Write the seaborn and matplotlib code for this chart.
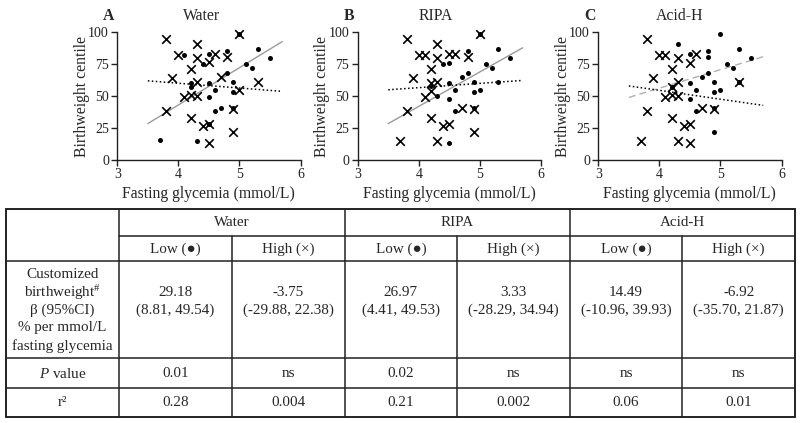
import matplotlib
matplotlib.use("Agg")
import matplotlib.pyplot as plt
from matplotlib.lines import Line2D
import seaborn as sns
import numpy as np
import pandas as pd

# ---------------- data ----------------
panel_names = ["Water", "RIPA", "Acid-H"]
panel_letters = ["A", "B", "C"]

a_low_x = [3.7, 4.1, 4.2, 4.2, 4.3, 4.4, 4.5, 4.5, 4.5, 4.5, 4.6, 4.6, 4.7, 4.8, 4.8, 4.9, 4.9, 4.9, 5.0, 5.1, 5.2, 5.3, 5.5]
a_low_y = [16, 82, 60, 57, 15, 75, 83, 60, 49, 28, 55, 38, 41, 85, 68, 61, 53, 41, 99, 75, 72, 87, 80]
a_high_x = [3.8, 3.8, 3.9, 4.0, 4.1, 4.2, 4.2, 4.2, 4.3, 4.3, 4.3, 4.3, 4.4, 4.5, 4.5, 4.5, 4.6, 4.7, 4.8, 4.9, 4.9, 5.0, 5.0, 5.3]
a_high_y = [95, 38, 64, 82, 49, 71, 51, 33, 91, 80, 61, 50, 27, 77, 28, 13, 83, 65, 81, 40, 22, 99, 55, 61]

b_low_x = [4.2, 4.3, 4.4, 4.5, 4.5, 4.5, 4.5, 4.6, 4.6, 4.7, 4.8, 4.8, 4.9, 4.9, 4.9, 5.0, 5.0, 5.1, 5.2, 5.3, 5.3, 5.5]
b_low_y = [58, 50, 75, 76, 60, 48, 13, 55, 38, 65, 85, 68, 61, 53, 41, 99, 55, 75, 72, 87, 61, 80]
b_high_x = [3.7, 3.8, 3.8, 3.9, 4.0, 4.1, 4.1, 4.2, 4.2, 4.2, 4.2, 4.3, 4.3, 4.3, 4.3, 4.4, 4.5, 4.5, 4.6, 4.7, 4.8, 4.9, 4.9, 5.0]
b_high_y = [15, 95, 38, 64, 82, 82, 49, 71, 60, 54, 33, 91, 80, 61, 15, 27, 83, 28, 83, 41, 81, 40, 22, 99]

c_low_x = [4.2, 4.3, 4.5, 4.5, 4.5, 4.6, 4.6, 4.7, 4.8, 4.8, 4.8, 4.9, 4.9, 4.9, 4.9, 5.0, 5.0, 5.1, 5.2, 5.3, 5.3, 5.5]
c_low_y = [57, 91, 83, 60, 48, 55, 38, 65, 85, 81, 68, 61, 53, 41, 22, 99, 55, 75, 72, 87, 61, 80]
c_high_x = [3.7, 3.8, 3.8, 3.9, 4.0, 4.1, 4.1, 4.2, 4.2, 4.2, 4.2, 4.3, 4.3, 4.3, 4.3, 4.4, 4.5, 4.5, 4.5, 4.6, 4.7, 4.9, 5.3]
c_high_y = [15, 95, 38, 64, 82, 82, 49, 71, 57, 51, 33, 80, 61, 50, 15, 27, 76, 28, 13, 83, 41, 40, 61]

# regression lines: x range, y at start, slope (beta from table)
line_x = [3.5, 5.7]
low_start = [28.5, 28.5, 49.0]
high_start = [62.0, 55.0, 58.0]

# table values
beta = ["29.18", "-3.75", "26.97", "3.33", "14.49", "-6.92"]
ci = ["(8.81, 49.54)", "(-29.88, 22.38)", "(4.41, 49.53)", "(-28.29, 34.94)",
      "(-10.96, 39.93)", "(-35.70, 21.87)"]
pvals = ["0.01", "ns", "0.02", "ns", "ns", "ns"]
r2 = ["0.28", "0.004", "0.21", "0.002", "0.06", "0.01"]
beta_num = [29.18, -3.75, 26.97, 3.33, 14.49, -6.92]
sub_headers = ["Low (\u25cf)", "High (\u00d7)"]

xticks = [3, 4, 5, 6]
yticks = [0, 25, 50, 75, 100]

# ---------------- style ----------------
sns.set_theme(style="ticks")
serif = ["Liberation Serif", "DejaVu Serif"]
plt.rcParams["font.family"] = serif
plt.rcParams["mathtext.fontset"] = "custom"
plt.rcParams["mathtext.rm"] = "Liberation Serif"
plt.rcParams["mathtext.it"] = "Liberation Serif:italic"
plt.rcParams["axes.edgecolor"] = "#222222"
plt.rcParams["xtick.color"] = "#222222"
plt.rcParams["ytick.color"] = "#222222"

W, H = 800, 423
fig = plt.figure(figsize=(8.0, 4.23), dpi=100)

def fx(px):
    return px / W

def fy(py):
    return 1 - py / H

panels = [
    (a_low_x, a_low_y, a_high_x, a_high_y),
    (b_low_x, b_low_y, b_high_x, b_high_y),
    (c_low_x, c_low_y, c_high_x, c_high_y),
]
ax_left_px = [117.3, 357.7, 598.3]
ax_w_px = 183.2
ax_top_px, ax_bot_px = 32.3, 160.0
low_styles = [("-", "#9a9a9a"), ("-", "#9a9a9a"), ((0, (5, 3)), "#b0b0b0")]
title_off = [-7, -14, -10]
letter_off = [-9, -9, -8]

for i, (lx, ly, hx, hy) in enumerate(panels):
    ax = fig.add_axes([fx(ax_left_px[i]), fy(ax_bot_px), fx(ax_w_px),
                       (ax_bot_px - ax_top_px) / H])
    sns.scatterplot(x=lx, y=ly, ax=ax, marker="o", color="black", s=13,
                    edgecolor="black", linewidth=0, clip_on=False, zorder=3)
    sns.scatterplot(x=hx, y=hy, ax=ax, marker="x", color="black", s=38,
                    linewidth=1.2, clip_on=False, zorder=3)
    lo_y = [low_start[i] + beta_num[2 * i] * (x - line_x[0]) for x in line_x]
    hi_y = [high_start[i] + beta_num[2 * i + 1] * (x - line_x[0]) for x in line_x]
    ls, col = low_styles[i]
    sns.lineplot(x=line_x, y=lo_y, ax=ax, color=col, linewidth=1.0, linestyle=ls, zorder=2)
    sns.lineplot(x=line_x, y=hi_y, ax=ax, color="black", linewidth=1.1,
                 linestyle=(0, (1, 1.6)), zorder=2)
    ax.set_xlim(3, 6)
    ax.set_ylim(0, 100)
    ax.set_xticks(xticks)
    ax.set_yticks(yticks)
    ax.tick_params(labelsize=10, length=4, width=1, pad=2)
    sns.despine(ax=ax)
    for sp in ax.spines.values():
        sp.set_linewidth(1.0)
    ax.set_xlabel("Fasting glycemia (mmol/L)", fontsize=11.3, labelpad=3)
    ax.set_ylabel("Birthweight centile", fontsize=11.3)
    ax.yaxis.set_label_coords(-0.15, 0.5)
    cx = ax_left_px[i] + ax_w_px / 2 + title_off[i]
    fig.text(fx(cx), fy(16), panel_names[i], ha="center", va="center", fontsize=11.3)
    fig.text(fx(ax_left_px[i] + letter_off[i]), fy(16), panel_letters[i],
             ha="center", va="center", fontsize=11.3, fontweight="bold")

# ---------------- table ----------------
tx0, tx1 = 6, 795
ty0, ty1 = 209, 417
c0 = 119.3
cw = (tx1 - c0) / 6
col_edges = [c0 + k * cw for k in range(7)]
row_h1, row_h2, row_big, row_p = 235.7, 261.0, 358.3, 387.7

def hline(y, x0, x1, lw=1.0):
    fig.add_artist(Line2D([fx(x0), fx(x1)], [fy(y), fy(y)], color="#222222", lw=lw))

def vline(x, y0, y1, lw=1.0):
    fig.add_artist(Line2D([fx(x), fx(x)], [fy(y0), fy(y1)], color="#222222", lw=lw))

# outer border
hline(ty0, tx0, tx1, 1.4)
hline(ty1, tx0, tx1, 1.4)
vline(tx0, ty0, ty1, 1.4)
vline(tx1, ty0, ty1, 1.4)
# internal lines
hline(row_h1, c0, tx1, 1.1)
for yy in [row_h2, row_big, row_p]:
    hline(yy, tx0, tx1, 1.1)
for k in [0, 2, 4]:
    vline(col_edges[k], ty0, ty1, 1.1)
for k in [1, 3, 5]:
    vline(col_edges[k], row_h1, ty1, 1.1)

fs = 10.9
for g in range(3):
    cx = (col_edges[2 * g] + col_edges[2 * g + 2]) / 2
    fig.text(fx(cx), fy((ty0 + row_h1) / 2), panel_names[g], ha="center", va="center", fontsize=fs)

for k in range(6):
    cx = (col_edges[k] + col_edges[k + 1]) / 2
    fig.text(fx(cx), fy((row_h1 + row_h2) / 2 + 0.5), sub_headers[k % 2],
             ha="center", va="center", fontsize=fs)
    fig.text(fx(cx), fy(292.5), beta[k], ha="center", va="center", fontsize=fs)
    fig.text(fx(cx), fy(310), ci[k], ha="center", va="center", fontsize=fs)
    fig.text(fx(cx), fy((row_big + row_p) / 2 + 0.5), pvals[k], ha="center", va="center", fontsize=fs)
    fig.text(fx(cx), fy((row_p + ty1) / 2 + 0.5), r2[k], ha="center", va="center", fontsize=fs)

lab_cx = (tx0 + c0) / 2
first_col = ["Customized", r"birthweight$^{\#}$", "\u03b2 (95%CI)", "% per mmol/L", "fasting glycemia"]
for j, t in enumerate(first_col):
    fig.text(fx(lab_cx), fy(274.5 + 17.8 * j), t, ha="center", va="center", fontsize=fs)
fig.text(fx(lab_cx), fy((row_big + row_p) / 2 + 0.5), r"$P$ value", ha="center", va="center", fontsize=fs)
fig.text(fx(lab_cx), fy((row_p + ty1) / 2 + 0.5), "r\u00b2", ha="center", va="center", fontsize=fs)

fig.savefig("out.png", dpi=100, facecolor="white")
